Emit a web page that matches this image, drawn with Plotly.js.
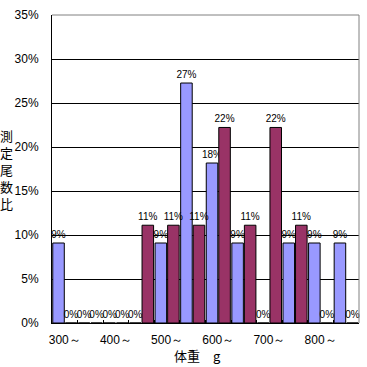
<!DOCTYPE html>
<html>
<head>
<meta charset="utf-8">
<script src="https://cdn.plot.ly/plotly-3.0.1.min.js"></script>
<style>html,body{margin:0;padding:0;background:#fff;}#chart{width:367px;height:367px;}</style>
</head>
<body>
<div id="chart"></div>
<script>
// categories (weight classes, g)
const categories = ['300～','350～','400～','450～','500～','550～','600～','650～','700～','750～','800～','850～'];
const tickLabels = ['300～','','400～','','500～','','600～','','700～','','800～',''];
// ratio of measured fish per class
const seriesA = [0.0909,0,0,0,0.0909,0.2727,0.1818,0.0909,0,0.0909,0.0909,0.0909];
const seriesB = [0,0,0,0.1111,0.1111,0.1111,0.2222,0.1111,0.2222,0.1111,0,0];
const yTitle = '測定尾数比';
const xTitle = '体重　g';

const numFont = 'Liberation Sans Narrow, Liberation Sans, Arial, sans-serif';
const jpFont = 'Noto Sans CJK JP, sans-serif';

const common = {
  type: 'bar', x: categories,
  texttemplate: '%{y:.0%}', textposition: 'outside',
  textfont: {family: numFont, size: 10, color: '#000'},
  constraintext: 'none', cliponaxis: false,
  hoverinfo: 'none'
};
const data = [
  Object.assign({}, common, {y: seriesA, name: 'A', marker: {color: '#9999FF', line: {color: '#000', width: 1}}}),
  Object.assign({}, common, {y: seriesB, name: 'B', marker: {color: '#993366', line: {color: '#000', width: 1}}})
];

const layout = {
  width: 367, height: 367,
  margin: {l: 52, r: 8, t: 15, b: 44},
  paper_bgcolor: '#fff', plot_bgcolor: '#fff',
  showlegend: false,
  barmode: 'group', bargap: 0.02, bargroupgap: 0.08,
  xaxis: {
    type: 'category', categoryorder: 'array', categoryarray: categories,
    tickvals: categories, ticktext: tickLabels, tickangle: 0,
    tickson: 'boundaries', ticks: 'inside', ticklen: 3, tickcolor: '#000', tickwidth: 1,
    ticklabelstandoff: 6,
    showgrid: false, showline: true, linecolor: '#000', linewidth: 1,
    tickfont: {family: numFont, size: 12, color: '#000'},
    automargin: false, fixedrange: true
  },
  yaxis: {
    range: [0, 0.35], dtick: 0.05, tickformat: '.0%',
    showgrid: true, gridcolor: '#000', gridwidth: 1,
    showline: true, linecolor: '#000', linewidth: 1,
    ticks: '', ticklabelstandoff: 10,
    tickfont: {family: numFont, size: 12, color: '#000'},
    zeroline: false, automargin: false, fixedrange: true
  },
  shapes: [
    {type: 'line', xref: 'paper', yref: 'paper', x0: 0, x1: 1, y0: 1, y1: 1, line: {color: '#808080', width: 1}},
    {type: 'line', xref: 'paper', yref: 'paper', x0: 1, x1: 1, y0: 0, y1: 1, line: {color: '#808080', width: 1}}
  ],
  annotations: [
    {
      xref: 'paper', yref: 'paper', x: -0.147, y: 0.5, xanchor: 'center', yanchor: 'middle',
      text: yTitle.split('').join('<br>'), showarrow: false,
      font: {family: jpFont, size: 13, color: '#000'}
    },
    {
      xref: 'paper', yref: 'paper', x: 0.475, y: -0.107, xanchor: 'center', yanchor: 'middle',
      text: xTitle, showarrow: false,
      font: {family: jpFont, size: 13, color: '#000'}
    }
  ]
};
Plotly.newPlot('chart', data, layout, {displayModeBar: false, staticPlot: true});
</script>
</body>
</html>
